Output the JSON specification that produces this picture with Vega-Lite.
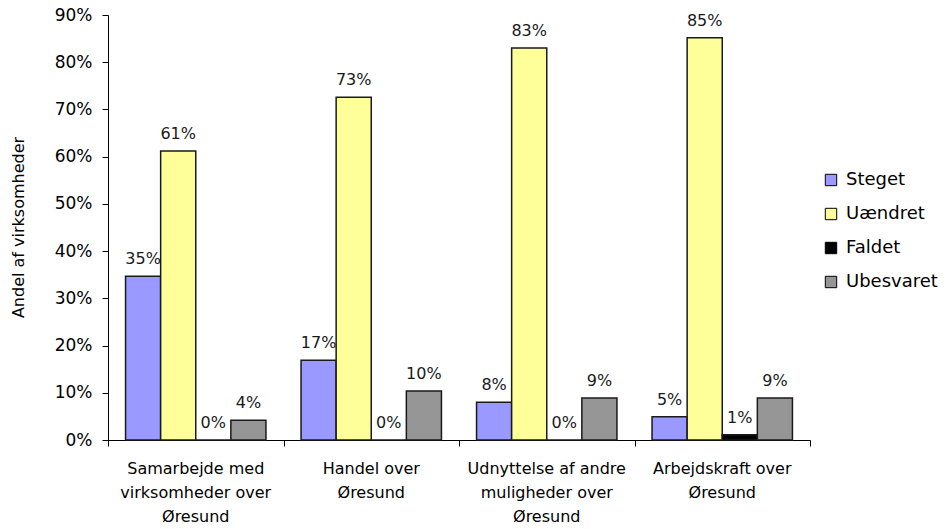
{
  "$schema": "https://vega.github.io/schema/vega-lite/v6.json",
  "width": 702,
  "height": 425,
  "autosize": {"type": "none"},
  "padding": {"left": 108, "top": 15, "right": 138, "bottom": 89},
  "background": "white",
  "config": {"view": {"stroke": null}, "font": "DejaVu Sans"},
  "data": {
    "values": [
      {"kategori": "Samarbejde med virksomheder over Øresund", "svar": "Steget", "andel": 0.347},
      {"kategori": "Samarbejde med virksomheder over Øresund", "svar": "Uændret", "andel": 0.612},
      {"kategori": "Samarbejde med virksomheder over Øresund", "svar": "Faldet", "andel": 0.0},
      {"kategori": "Samarbejde med virksomheder over Øresund", "svar": "Ubesvaret", "andel": 0.042},
      {"kategori": "Handel over Øresund", "svar": "Steget", "andel": 0.169},
      {"kategori": "Handel over Øresund", "svar": "Uændret", "andel": 0.726},
      {"kategori": "Handel over Øresund", "svar": "Faldet", "andel": 0.0},
      {"kategori": "Handel over Øresund", "svar": "Ubesvaret", "andel": 0.104},
      {"kategori": "Udnyttelse af andre muligheder over Øresund", "svar": "Steget", "andel": 0.08},
      {"kategori": "Udnyttelse af andre muligheder over Øresund", "svar": "Uændret", "andel": 0.83},
      {"kategori": "Udnyttelse af andre muligheder over Øresund", "svar": "Faldet", "andel": 0.0},
      {"kategori": "Udnyttelse af andre muligheder over Øresund", "svar": "Ubesvaret", "andel": 0.089},
      {"kategori": "Arbejdskraft over Øresund", "svar": "Steget", "andel": 0.049},
      {"kategori": "Arbejdskraft over Øresund", "svar": "Uændret", "andel": 0.852},
      {"kategori": "Arbejdskraft over Øresund", "svar": "Faldet", "andel": 0.011},
      {"kategori": "Arbejdskraft over Øresund", "svar": "Ubesvaret", "andel": 0.089}
    ]
  },
  "encoding": {
    "xOffset": {
      "field": "svar",
      "type": "nominal",
      "sort": ["Steget", "Uændret", "Faldet", "Ubesvaret"],
      "scale": {"paddingInner": 0, "paddingOuter": 0.5}
    },
    "y": {
      "field": "andel",
      "type": "quantitative",
      "scale": {"domain": [0, 0.9]},
      "axis": {
        "format": ".0%",
        "values": [0, 0.1, 0.2, 0.3, 0.4, 0.5, 0.6, 0.7, 0.8, 0.9],
        "grid": false,
        "domainColor": "black",
        "tickColor": "black",
        "tickSize": 6,
        "labelFontSize": 17,
        "labelColor": "black",
        "labelPadding": 10,
        "title": "Andel af virksomheder",
        "titleFontSize": 16,
        "titleFontWeight": "normal",
        "titleColor": "black",
        "titleX": -90,
        "titleY": 212,
        "titleAngle": -90,
        "titleAlign": "center",
        "titleBaseline": "middle"
      }
    }
  },
  "layer": [
    {
      "mark": {"type": "bar", "stroke": "#1a1a1a", "strokeWidth": 1.5},
      "encoding": {
        "x": {
          "field": "kategori",
          "type": "nominal",
          "sort": ["Samarbejde med virksomheder over Øresund", "Handel over Øresund", "Udnyttelse af andre muligheder over Øresund", "Arbejdskraft over Øresund"],
          "scale": {"paddingInner": 0, "paddingOuter": 0},
          "axis": {
            "orient": "bottom",
            "title": null,
            "labelAngle": 0,
            "ticks": false,
            "domainColor": "black",
            "labelFontSize": 16,
            "labelColor": "black",
            "labelPadding": 20,
            "labelLineHeight": 24,
            "labelBaseline": "top",
            "labelExpr": "datum.label == 'Samarbejde med virksomheder over Øresund' ? ['Samarbejde med', 'virksomheder over', 'Øresund'] : datum.label == 'Handel over Øresund' ? ['Handel over', 'Øresund'] : datum.label == 'Udnyttelse af andre muligheder over Øresund' ? ['Udnyttelse af andre', 'muligheder over', 'Øresund'] : ['Arbejdskraft over', 'Øresund']"
          }
        },
        "color": {
          "field": "svar",
          "type": "nominal",
          "scale": {"domain": ["Steget", "Uændret", "Faldet", "Ubesvaret"], "range": ["#9999FF", "#FFFF99", "#000000", "#969696"]},
          "legend": {
            "title": null,
            "orient": "none",
            "legendX": 714,
            "legendY": 156,
            "padding": 0,
            "symbolType": "square",
            "symbolSize": 130,
            "symbolStrokeColor": "black",
            "symbolStrokeWidth": 1,
            "symbolOpacity": 1,
            "labelFontSize": 18,
            "labelColor": "black",
            "labelOffset": 6,
            "rowPadding": 16
          }
        }
      }
    },
    {
      "mark": {"type": "text", "baseline": "alphabetic", "dy": -12, "fontSize": 16, "color": "#1a1a1a"},
      "encoding": {
        "x": {
          "field": "kategori",
          "type": "nominal",
          "sort": ["Samarbejde med virksomheder over Øresund", "Handel over Øresund", "Udnyttelse af andre muligheder over Øresund", "Arbejdskraft over Øresund"],
          "axis": {
            "orient": "bottom",
            "title": null,
            "labels": false,
            "domain": false,
            "tickBand": "extent",
            "tickColor": "black",
            "tickSize": 6
          }
        },
        "text": {"field": "andel", "type": "quantitative", "format": ".0%"}
      }
    }
  ],
  "resolve": {"axis": {"x": "independent"}}
}
